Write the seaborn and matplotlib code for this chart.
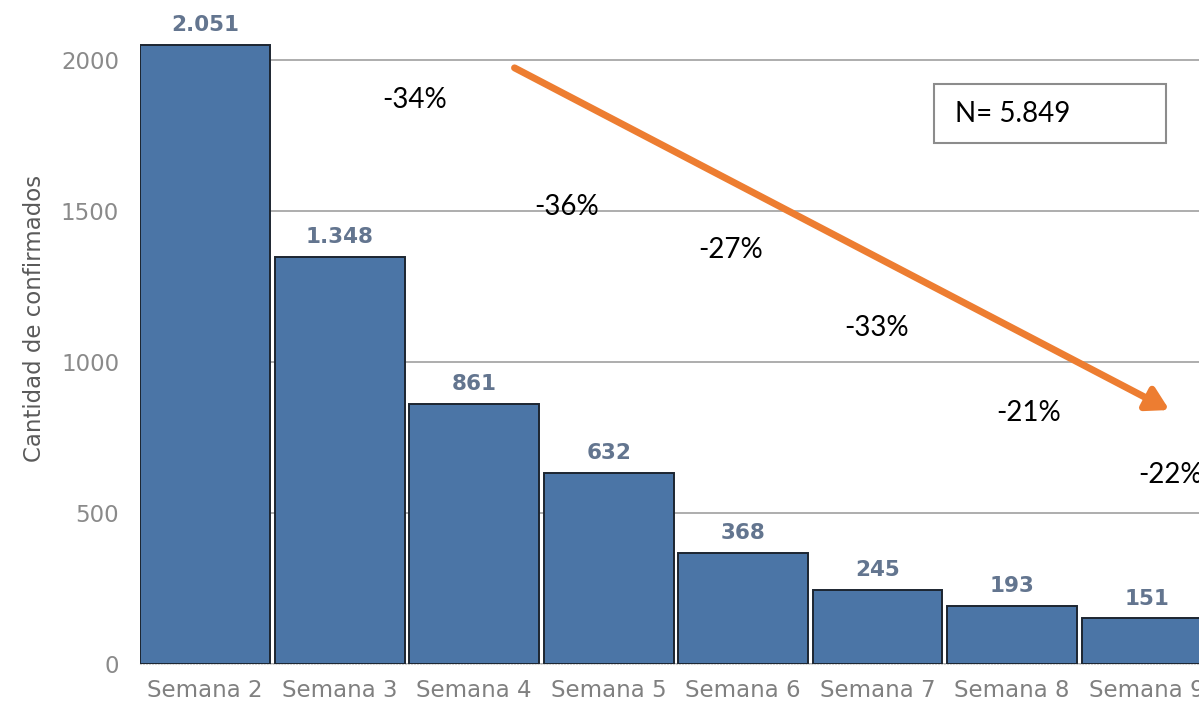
import numpy as np
import pandas as pd
import matplotlib
matplotlib.use("Agg")
import matplotlib.pyplot as plt
import seaborn as sns

sns.set_style("white")
plt.rcParams['font.family'] = ['DejaVu Sans']

# data
semanas = ['Semana 2', 'Semana 3', 'Semana 4', 'Semana 5', 'Semana 6', 'Semana 7', 'Semana 8', 'Semana 9']
confirmados = [2051, 1348, 861, 632, 368, 245, 193, 151]
cambios = ['-34%', '-36%', '-27%', '-33%', '-21%', '-22%']
total_n = 5849

df = pd.DataFrame({'semana': semanas, 'confirmados': confirmados})

fig = plt.figure(figsize=(11.99, 7.02), dpi=100)
ax = fig.add_axes([140 / 1199, 38 / 702, 1 - 140 / 1199, 664 / 702])

sns.barplot(data=df, x='semana', y='confirmados', color='#4b75a6', saturation=1,
            width=0.965, edgecolor='#1c2530', linewidth=1.4, ax=ax, zorder=3)

ax.set_xlim(-0.485, 7.39)
ax.set_ylim(0, 2198.7)
ax.set_yticks([0, 500, 1000, 1500, 2000])
ax.yaxis.grid(True, color='#a0a0a0', linewidth=1.2, zorder=0)
ax.set_axisbelow(True)
for s in ['top', 'right', 'left']:
    ax.spines[s].set_visible(False)
ax.spines['bottom'].set_color('#cfcfcf')
ax.spines['bottom'].set_linestyle(':')
ax.tick_params(axis='y', length=3, color='#bbbbbb', labelcolor='#8a8a8a', labelsize=16.5, pad=12)
ax.tick_params(axis='x', length=0, labelcolor='#808080', labelsize=16.5, pad=11)
ax.set_xlabel('')
ax.set_ylabel('Cantidad de confirmados', color='#5a5a5a', fontsize=16.5)
ax.yaxis.set_label_coords(-0.089, 0.521)

# value labels above each bar, with dot as thousands separator
etiquetas = [f"{v:,}".replace(",", ".") for v in confirmados]
ax.bar_label(ax.containers[0], labels=etiquetas, padding=7, color='#63758f',
             fontsize=15.5, fontweight='bold', clip_on=False)

# week-over-week drop labels
pos_x = [1.556, 2.69, 3.91, 4.99, 6.12, 7.18]
pos_y = [1868, 1513, 1371, 1113, 831, 626]
for x, y, t in zip(pos_x, pos_y, cambios):
    ax.text(x, y, t, ha='center', va='center', fontsize=20, color='black', family=['Lato'])

# orange trend arrow
ax.annotate('', xy=(7.17, 841), xytext=(2.30, 1974),
            arrowprops=dict(arrowstyle='-|>,head_length=1.3,head_width=0.75',
                            color='#ed7d31', lw=5, shrinkA=0, shrinkB=0))

# total box
fig.text(955 / 1199, 1 - 114 / 702, f"N= {total_n:,}".replace(",", "."), ha='left', va='center',
         fontsize=20, color='black', family=['Lato'])
fig.patches.append(plt.Rectangle((934 / 1199, 1 - 143 / 702), 232 / 1199, 59 / 702,
                                 transform=fig.transFigure, fill=False,
                                 edgecolor='#8c8c8c', linewidth=1.5))

fig.savefig('out.png', dpi=100)
